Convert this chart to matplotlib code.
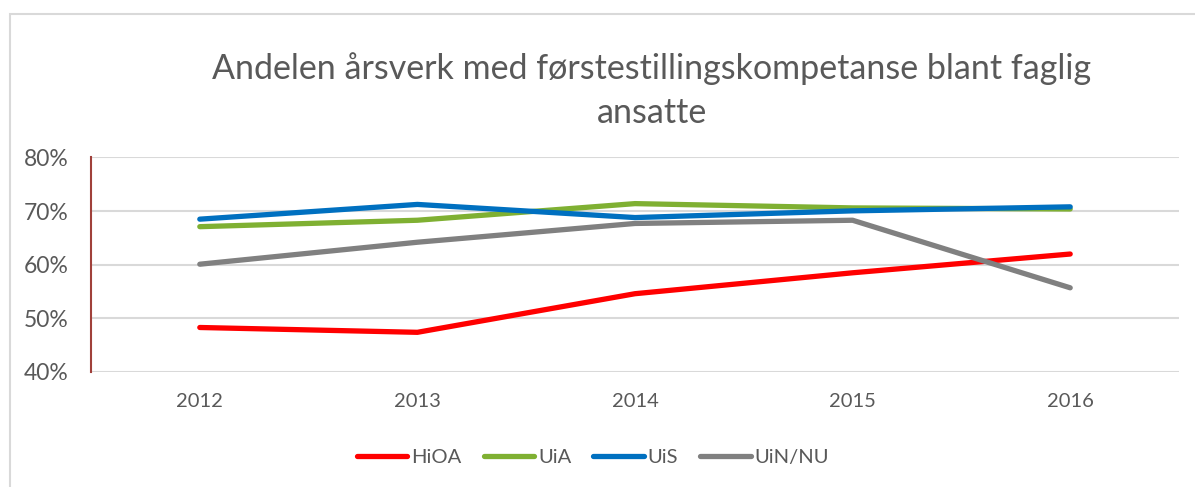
import matplotlib
matplotlib.use("Agg")
import matplotlib.pyplot as plt
from matplotlib.patches import Rectangle
from matplotlib.ticker import FuncFormatter

plt.rcParams['font.family'] = ['Lato', 'DejaVu Sans']

# data
years = ["2012", "2013", "2014", "2015", "2016"]
hioa = [48.3, 47.4, 54.6, 58.5, 62.0]
uia = [67.1, 68.3, 71.4, 70.6, 70.4]
uis = [68.5, 71.25, 68.8, 70.05, 70.8]
uin = [60.1, 64.2, 67.7, 68.3, 55.7]

series = [("HiOA", hioa, "#FF0000"),
          ("UiA", uia, "#7FB032"),
          ("UiS", uis, "#0070C0"),
          ("UiN/NU", uin, "#808080")]

title_lines = ["Andelen årsverk med førstestillingskompetanse blant faglig", "ansatte"]
text_col = "#595959"

fig = plt.figure(figsize=(11.95, 4.87), dpi=100)
ax = fig.add_axes([91 / 1195, 1 - 372 / 487, (1179 - 91) / 1195, (372 - 157.5) / 487])

# outer chart border
fig.patches.append(Rectangle((10 / 1195, -0.1), 1.2, 1 - 14 / 487 + 0.1, transform=fig.transFigure,
                             fill=False, edgecolor="#d9d9d9", linewidth=1.5))

x = list(range(len(years)))
for name, vals, col in series:
    ax.plot(x, vals, color=col, linewidth=3.8, solid_capstyle="round", solid_joinstyle="round", label=name)

ax.set_xlim(-0.5, len(years) - 0.5)
ax.set_ylim(40, 80)
ax.set_yticks([40, 50, 60, 70, 80])
ax.yaxis.set_major_formatter(FuncFormatter(lambda v, p: f"{v:.0f}%"))
ax.set_xticks(x)
ax.set_xticklabels(years)

ax.grid(axis="y", color="#d9d9d9", linewidth=1.5)
ax.set_axisbelow(True)
for s in ["top", "right", "bottom"]:
    ax.spines[s].set_visible(False)
ax.spines["left"].set_color("#a0403a")
ax.spines["left"].set_linewidth(1.5)

ax.tick_params(axis="y", length=0, pad=16, labelsize=16.5, labelcolor=text_col)
ax.tick_params(axis="x", length=0, pad=15, labelsize=14.5, labelcolor=text_col)

# title in two lines, placed on their baselines
fig.text(652 / 1195, 1 - 79 / 487, title_lines[0], ha="center", va="baseline", fontsize=24.5, color=text_col)
fig.text(652 / 1195, 1 - 123 / 487, title_lines[1], ha="center", va="baseline", fontsize=24.5, color=text_col)

fig.legend(loc="center", bbox_to_anchor=(593 / 1195, 1 - 457 / 487), ncol=4, frameon=False,
           fontsize=14.5, labelcolor=text_col, handlelength=2.5, handletextpad=0.2, columnspacing=1.1)

fig.savefig("out.png", dpi=100)
